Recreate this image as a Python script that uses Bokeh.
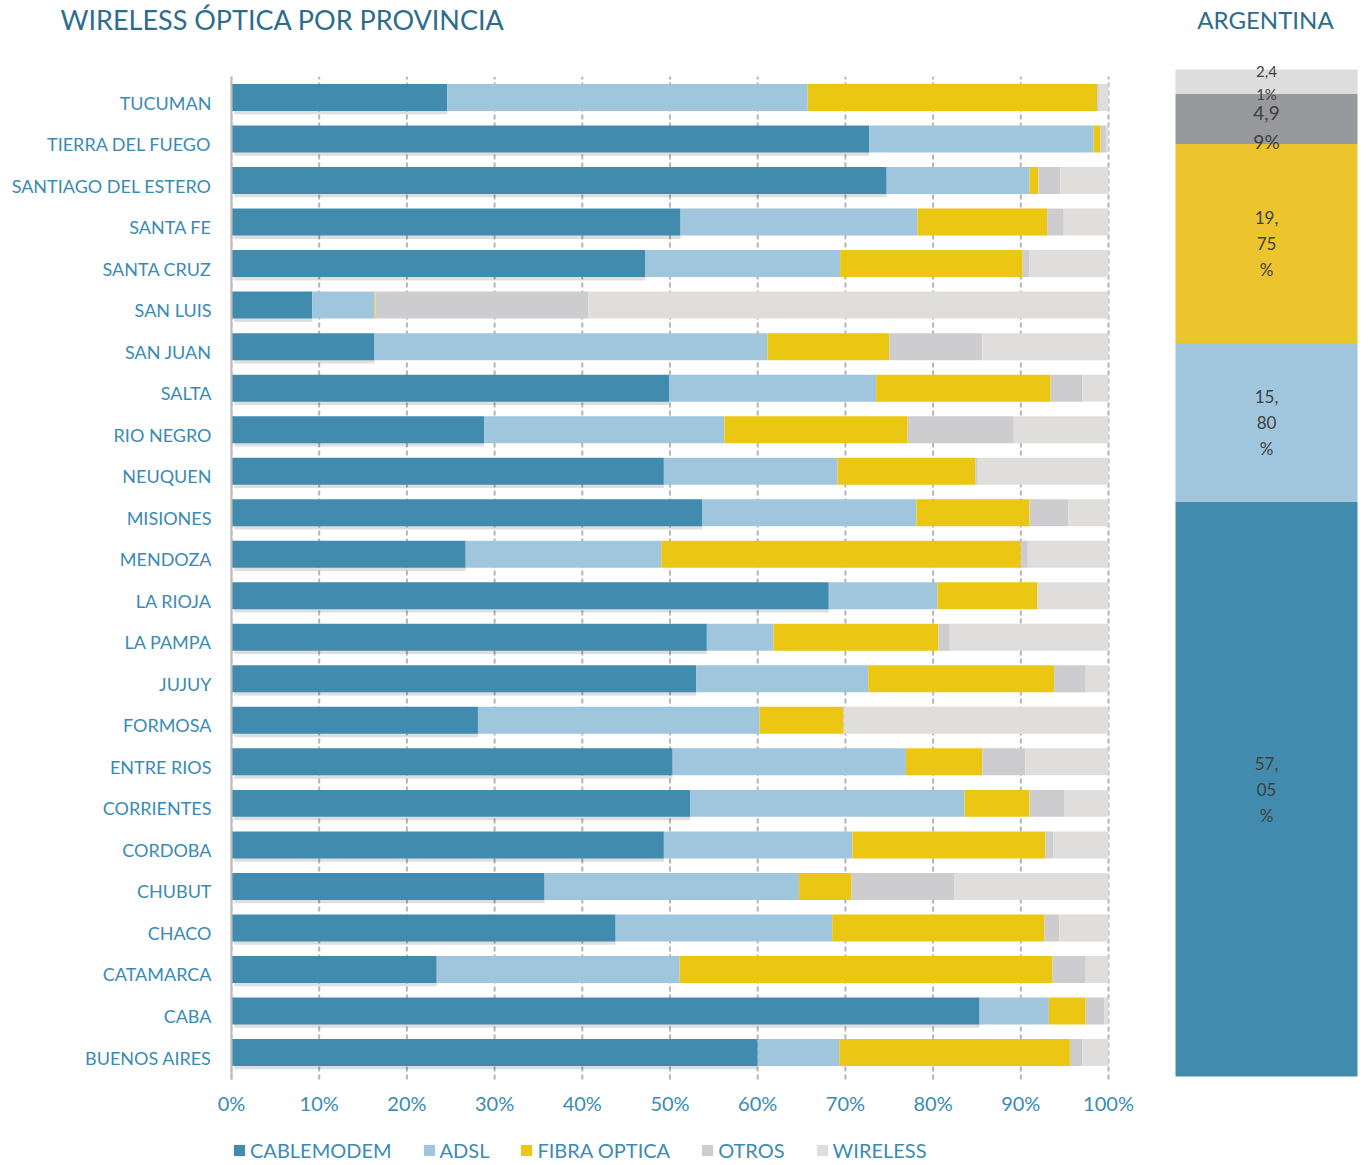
from bokeh.plotting import figure
from bokeh.models import (Range1d, FixedTicker, Legend, LegendItem, Label,
                          ColumnDataSource, LinearAxis)
from bokeh.transform import dodge
from bokeh.embed import file_html
from bokeh.resources import INLINE
from bokeh.core.properties import value

# ---------------- data ----------------
provinces = ["TUCUMAN", "TIERRA DEL FUEGO", "SANTIAGO DEL ESTERO", "SANTA FE",
             "SANTA CRUZ", "SAN LUIS", "SAN JUAN", "SALTA", "RIO NEGRO", "NEUQUEN",
             "MISIONES", "MENDOZA", "LA RIOJA", "LA PAMPA", "JUJUY", "FORMOSA",
             "ENTRE RIOS", "CORRIENTES", "CORDOBA", "CHUBUT", "CHACO", "CATAMARCA",
             "CABA", "BUENOS AIRES"]
cablemodem = [24.6, 72.7, 74.7, 51.2, 47.2, 9.2, 16.3, 49.9, 28.8, 49.3,
              53.7, 26.7, 68.1, 54.2, 53.0, 28.1, 50.3, 52.3, 49.3, 35.7,
              43.8, 23.4, 85.3, 60.0]
adsl = [41.1, 25.6, 16.3, 27.0, 22.2, 7.1, 44.8, 23.6, 27.4, 19.8,
        24.4, 22.3, 12.4, 7.6, 19.6, 32.1, 26.6, 31.3, 21.5, 29.0,
        24.7, 27.7, 7.9, 9.3]
fibra_optica = [33.0, 0.8, 1.0, 14.8, 20.8, 0.1, 13.9, 19.9, 20.9, 15.7,
                12.9, 41.0, 11.4, 18.8, 21.2, 9.6, 8.7, 7.4, 22.0, 6.0,
                24.2, 42.5, 4.2, 26.3]
otros = [0.2, 0.6, 2.5, 1.9, 0.8, 24.3, 10.6, 3.6, 12.1, 0.3,
         4.4, 0.8, 0.0, 1.3, 3.6, 0.1, 4.9, 4.0, 0.9, 11.7,
         1.7, 3.8, 2.1, 1.4]
wireless = [1.1, 0.3, 5.5, 5.1, 9.0, 59.3, 14.4, 3.0, 10.8, 14.9,
            4.6, 9.2, 8.1, 18.1, 2.6, 30.1, 9.5, 5.0, 6.3, 17.6,
            5.6, 2.6, 0.5, 3.0]

series_names = ["CABLEMODEM", "ADSL", "FIBRA OPTICA", "OTROS", "WIRELESS"]
x_ticks = [0, 10, 20, 30, 40, 50, 60, 70, 80, 90, 100]
x_tick_labels = ["0%", "10%", "20%", "30%", "40%", "50%", "60%", "70%", "80%", "90%", "100%"]

argentina_values = [57.05, 15.80, 19.75, 4.99, 2.41]
argentina_labels = ["57,\n05\n%", "15,\n80\n%", "19,\n75\n%", "4,9\n9%", "2,4\n1%"]

title_text = "WIRELESS ÓPTICA POR PROVINCIA"
argentina_title = "ARGENTINA"

# ---------------- layout (pixels on the page) ----------------
FRAME_L, FRAME_R, FRAME_T, FRAME_B = 0, 1362, 0, 1162
ZERO_PX, FULL_PX = 231, 1108              # 0 % and 100 %
TOP_ROW_PX, BOTTOM_ROW_PX = 97, 1052      # centres of first and last row
LABEL_DROP_PX = 5                         # province labels sit a little below bar centre
AXIS_BOTTOM_PX = 1079
ARG_L_PX, ARG_R_PX, ARG_T_PX, ARG_B_PX = 1175, 1357, 69, 1076


def span(lo_px, hi_px, pa, va, pb, vb):
    s = (vb - va) / (pb - pa)
    return va + (lo_px - pa) * s, va + (hi_px - pa) * s


n = len(provinces)
x_start, x_end = span(FRAME_L, FRAME_R, ZERO_PX, 0, FULL_PX, 100)
y_start, y_end = span(FRAME_B, FRAME_T, BOTTOM_ROW_PX, 0, TOP_ROW_PX, n - 1)
axis_y = span(AXIS_BOTTOM_PX, AXIS_BOTTOM_PX, BOTTOM_ROW_PX, 0, TOP_ROW_PX, n - 1)[0]
label_drop = LABEL_DROP_PX * (n - 1) / (BOTTOM_ROW_PX - TOP_ROW_PX)
ax_start, ax_end = span(FRAME_L, FRAME_R, ARG_L_PX, 0, ARG_R_PX, 1)
ay_start, ay_end = span(FRAME_B, FRAME_T, ARG_B_PX, 0, ARG_T_PX, 100)

# ---------------- style ----------------
FONT = "Lato"
TEXT_BLUE = "#3A8BB3"
TITLE_BLUE = "#2D6D8C"
prov_colors = ["#418CAE", "#9FC6DD", "#EBC714", "#CDCDCF", "#DFDEDC"]
arg_colors = ["#418CAE", "#9FC6DD", "#ECC42D", "#97999C", "#DEDDDC"]
keys = ["cable", "adsl", "fibra", "otros", "wireless"]

ypos = [n - 1 - k for k in range(n)]
src = ColumnDataSource(dict(y=ypos, cable=cablemodem, adsl=adsl,
                            fibra=fibra_optica, otros=otros, wireless=wireless))

p = figure(width=FRAME_R - FRAME_L, height=FRAME_B - FRAME_T,
           x_range=Range1d(x_start, x_end), y_range=Range1d(y_start, y_end),
           x_axis_type=None, y_axis_type=None,
           output_backend="svg", toolbar_location=None,
           min_border=0, min_border_left=0, min_border_right=0,
           min_border_top=0, min_border_bottom=0)
p.extra_x_ranges = {"arg": Range1d(ax_start, ax_end)}
p.extra_y_ranges = {"argy": Range1d(ay_start, ay_end)}
p.outline_line_color = None
p.background_fill_color = "white"
p.border_fill_color = "white"

# dashed vertical grid lines
p.segment(x0=x_ticks, x1=x_ticks, y0=[axis_y] * len(x_ticks), y1=[n - 0.5] * len(x_ticks),
          line_color="#B5B5B5", line_width=2, line_dash="5 3")

# shadow under cablemodem segment
p.hbar(y=dodge("y", -0.08), left=0.3, right="cable", height=0.65, source=src,
       fill_color="black", fill_alpha=0.13, line_color=None)

rends = p.hbar_stack(keys, y="y", height=0.65, color=prov_colors,
                     line_color=None, source=src)

xaxis = LinearAxis(fixed_location=axis_y, ticker=FixedTicker(ticks=x_ticks),
                   major_label_overrides={t: l for t, l in zip(x_ticks, x_tick_labels)},
                   axis_line_color=None, major_tick_line_color=None,
                   minor_tick_line_color=None, major_tick_out=0, minor_tick_out=0,
                   major_label_standoff=11, major_label_text_font=FONT,
                   major_label_text_font_size="20px", major_label_text_color=TEXT_BLUE)
p.add_layout(xaxis, "below")

label_ticks = [yv - label_drop for yv in ypos]
yaxis = LinearAxis(fixed_location=0, ticker=FixedTicker(ticks=label_ticks),
                   major_label_overrides={t: name for t, name in zip(label_ticks, provinces)},
                   bounds=(axis_y, n - 0.5),
                   axis_line_color="#BDBDBD", axis_line_width=2,
                   major_tick_line_color=None, minor_tick_line_color=None,
                   major_tick_out=0, minor_tick_out=0, major_label_standoff=20,
                   major_label_text_font=FONT, major_label_text_font_size="18px",
                   major_label_text_color=TEXT_BLUE)
p.add_layout(yaxis, "left")

legend = Legend(items=[LegendItem(label=nm, renderers=[r]) for nm, r in zip(series_names, rends)],
                orientation="horizontal", location=(232 - FRAME_L, 0),
                label_text_font=FONT, label_text_font_size="20px",
                label_text_color=TEXT_BLUE, glyph_width=14, glyph_height=14,
                label_standoff=4, spacing=30, padding=0, margin=0,
                border_line_color=None, background_fill_alpha=0)
p.add_layout(legend, "center")

p.add_layout(Label(x=60 - FRAME_L, y=FRAME_B - 18.8, x_units="screen", y_units="screen",
                   text=title_text, text_font=FONT, text_font_size="27px",
                   text_color=TITLE_BLUE, text_baseline="middle"))
p.add_layout(Label(x=1265 - FRAME_L, y=FRAME_B - 19.2, x_units="screen", y_units="screen",
                   text=argentina_title, text_font=FONT, text_font_size="24px",
                   text_color=TITLE_BLUE, text_baseline="middle", text_align="center"))

# ---------------- Argentina bar ----------------
asrc = ColumnDataSource(dict(x=[0.5], cable=[argentina_values[0]], adsl=[argentina_values[1]],
                             fibra=[argentina_values[2]], otros=[argentina_values[3]],
                             wireless=[argentina_values[4]]))
p.vbar_stack(keys, x="x", width=1.0, color=arg_colors, line_color=None, source=asrc,
             x_range_name="arg", y_range_name="argy")

mids = []
acc = 0
for v in argentina_values:
    mids.append(acc + v / 2)
    acc += v
lsrc = ColumnDataSource(dict(x=[0.5] * len(mids), y=mids, text=argentina_labels,
                             size=["17px", "17px", "17px", "19px", "15px"],
                             dy=[0, 0, 0, 8, 1]))
p.text(x="x", y="y", text="text", source=lsrc,
       x_range_name="arg", y_range_name="argy", y_offset="dy",
       text_align="center", text_baseline="middle", text_font=value(FONT),
       text_font_size="size", text_color="#404040", text_line_height=1.25)

open("out.html", "w").write(file_html(p, INLINE))
